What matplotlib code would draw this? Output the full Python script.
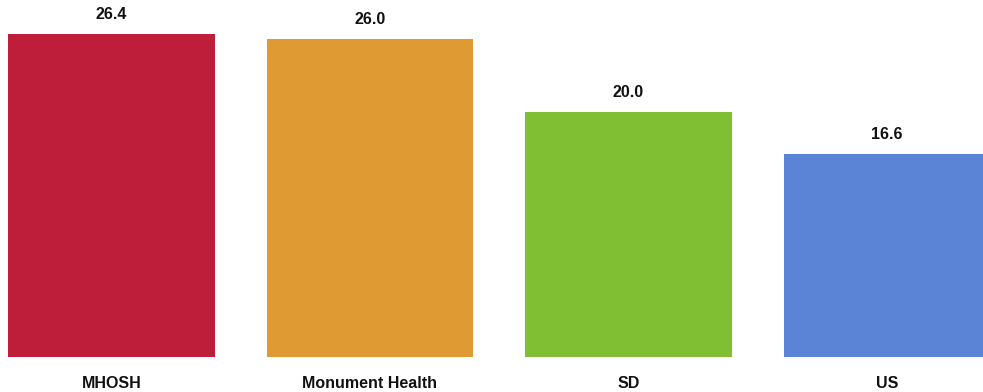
import matplotlib
matplotlib.use("Agg")
import matplotlib.pyplot as plt
from matplotlib import font_manager

categories = ["MHOSH", "Monument Health", "SD", "US"]
values = [26.4, 26.0, 20.0, 16.6]
colors = ["#BE1E3A", "#E09A33", "#80BF33", "#5B84D6"]
value_labels = ["26.4", "26.0", "20.0", "16.6"]

names = {f.name for f in font_manager.fontManager.ttflist}
fam = "Liberation Sans Narrow" if "Liberation Sans Narrow" in names else "Liberation Sans"

W, H = 983, 392
fig = plt.figure(figsize=(W / 100, H / 100), dpi=100)
ax = fig.add_axes([0, 35 / H, 1, 357 / H])
x = list(range(len(categories)))
ax.bar(x, values, width=0.8, color=colors)
ax.set_xlim(-111.5 / 258.5, (W - 111.5) / 258.5)
ax.set_ylim(0, 357 / 12.235)
for xi, v, lab in zip(x, values, value_labels):
    ax.annotate(lab, (xi, v), xytext=(0, 8.5), textcoords="offset points",
                ha="center", va="bottom", fontsize=11.5, fontweight="bold",
                family=fam, color="#111111")
ax.set_xticks(x)
ax.set_xticklabels(categories, fontsize=11.5, fontweight="bold", family=fam, color="#111111")
ax.tick_params(axis="x", length=0, pad=14)
ax.set_yticks([])
for s in ax.spines.values():
    s.set_visible(False)
fig.savefig("out.png", dpi=100)
